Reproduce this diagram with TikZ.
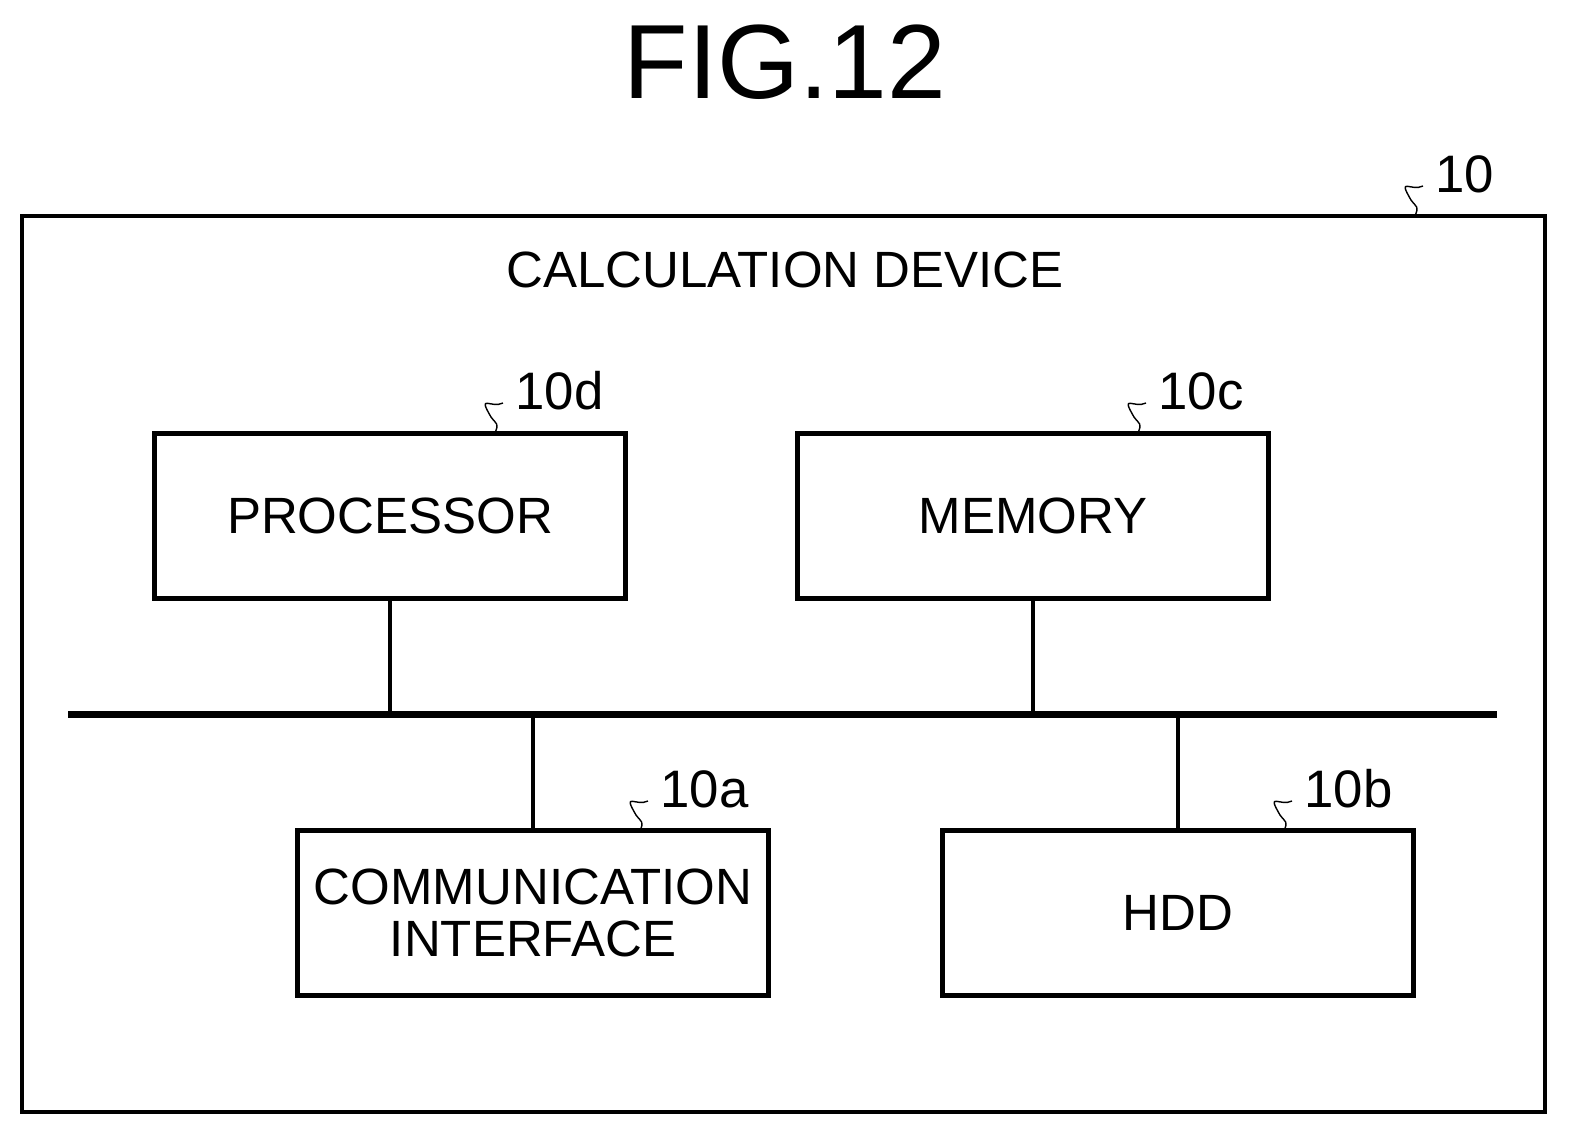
\documentclass[tikz,border=0pt]{standalone}
\usepackage{fontspec}
\setmainfont{Liberation Sans}
\usetikzlibrary{positioning}
\newcommand{\refmark}[3]{%
  \draw[thin] (#1,#2) .. controls +(4,-10) and +(6,8) .. +(-4,-16)
    .. controls +(-14,-24) and +(-12,6) .. +(8,-30);
  \node[anchor=west,font=\fontsize{15}{17}\selectfont,inner sep=0pt] at (#1+18,#2-42) {#3};}
\begin{document}
\begin{tikzpicture}[x=0.01cm,y=-0.01cm,line width=1.4pt,
  unit/.style={draw,line width=1.4pt,minimum width=4.7cm,minimum height=1.65cm,
    align=center,font=\fontsize{14.5}{16}\selectfont,inner sep=0pt}]
  \useasboundingbox (0,0) rectangle (1581,1144);
  \node[font=\fontsize{30}{34}\selectfont] (title) at (785,62) {FIG.12};
  \draw (22,216) rectangle (1545,1112);
  \node[font=\fontsize{14.5}{16}\selectfont] (dev) at (785,270) {CALCULATION DEVICE};

  \node[unit] (proc) at (390,516) {PROCESSOR};
  \node[unit] (mem) at (1033,516) {MEMORY};
  \node[unit] (comm) at (533,913) {COMMUNICATION\\[-1pt]INTERFACE};
  \node[unit] (hdd) at (1178,913) {HDD};

  \coordinate (busl) at (68,714);
  \coordinate (busr) at (1497,714);
  \draw[line width=2pt] (busl) -- (busr);
  \draw (proc) -- (proc |- busl);
  \draw (mem) -- (mem |- busl);
  \draw (comm) -- (comm |- busl);
  \draw (hdd) -- (hdd |- busl);

  \refmark{1415}{216}{10}
  \refmark{495}{433}{10d}
  \refmark{1138}{433}{10c}
  \refmark{640}{831}{10a}
  \refmark{1284}{831}{10b}
\end{tikzpicture}
\end{document}
